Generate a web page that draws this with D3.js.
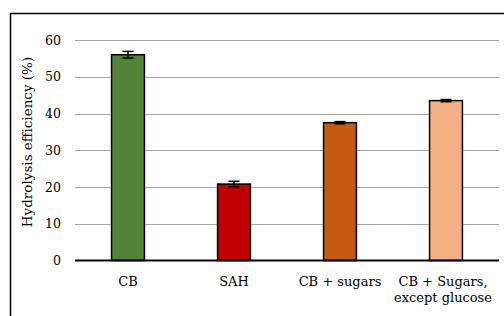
<!DOCTYPE html>
<html>
<head>
<meta charset="utf-8">
<script src="https://cdn.jsdelivr.net/npm/d3@7"></script>
<style>
  body { margin: 0; background: #fff; }
  text { font-family: "DejaVu Serif", serif; fill: #000; }
</style>
</head>
<body>
<div id="chart"></div>
<script>
const categories = ["CB", "SAH", "CB + sugars", "CB + Sugars, except glucose"];
const values = [56.0, 20.8, 37.5, 43.5];
const errors = [0.9, 0.75, 0.3, 0.3];
const colors = ["#538135", "#C00000", "#C55A11", "#F4B183"];
const yTicks = [0, 10, 20, 30, 40, 50, 60];

const width = 504;
const height = 316;
const plotLeft = 75, plotRight = 499, plotTop = 40, plotBottom = 260.5;

const svg = d3.select("#chart")
  .append("svg")
  .attr("width", width)
  .attr("height", height);

// outer frame, runs off the right and bottom edges
svg.append("rect")
  .attr("x", 10.5)
  .attr("y", 13.5)
  .attr("width", 600)
  .attr("height", 400)
  .attr("fill", "none")
  .attr("stroke", "#000")
  .attr("stroke-width", 1.5);

const x = d3.scaleBand()
  .domain(categories)
  .range([plotLeft, plotRight])
  .paddingInner(0.69)
  .paddingOuter(0.345);

const y = d3.scaleLinear()
  .domain([0, 60])
  .range([plotBottom, plotTop]);

// gridlines
svg.append("g")
  .selectAll("line")
  .data(yTicks.filter(d => d > 0))
  .enter()
  .append("line")
  .attr("x1", plotLeft)
  .attr("x2", plotRight)
  .attr("y1", d => Math.round(y(d)) + 0.5)
  .attr("y2", d => Math.round(y(d)) + 0.5)
  .attr("stroke", "#a6a6a6")
  .attr("stroke-width", 1.2);

// y tick labels
svg.append("g")
  .selectAll("text")
  .data(yTicks)
  .enter()
  .append("text")
  .attr("x", 61)
  .attr("y", d => y(d) + 4.5)
  .attr("text-anchor", "end")
  .attr("font-size", 12.5)
  .text(d => d);

// bars
svg.append("g")
  .selectAll("rect")
  .data(values)
  .enter()
  .append("rect")
  .attr("x", (d, i) => x(categories[i]))
  .attr("y", d => y(d))
  .attr("width", x.bandwidth())
  .attr("height", d => y(0) - y(d))
  .attr("fill", (d, i) => colors[i])
  .attr("stroke", "#000")
  .attr("stroke-width", 1.5);

// error bars
const eb = svg.append("g").attr("stroke", "#000").attr("stroke-width", 1.5);
values.forEach((v, i) => {
  const cx = x(categories[i]) + x.bandwidth() / 2;
  const e = errors[i];
  eb.append("line").attr("x1", cx).attr("x2", cx).attr("y1", y(v + e)).attr("y2", y(v - e));
  eb.append("line").attr("x1", cx - 5.5).attr("x2", cx + 5.5).attr("y1", y(v + e)).attr("y2", y(v + e));
  eb.append("line").attr("x1", cx - 5.5).attr("x2", cx + 5.5).attr("y1", y(v - e)).attr("y2", y(v - e));
});

// zero axis
svg.append("line")
  .attr("x1", plotLeft)
  .attr("x2", plotRight)
  .attr("y1", y(0))
  .attr("y2", y(0))
  .attr("stroke", "#000")
  .attr("stroke-width", 2);

// x labels
const xl = svg.append("g")
  .selectAll("text")
  .data(categories)
  .enter()
  .append("text")
  .attr("x", d => x(d) + x.bandwidth() / 2 - (d.includes(",") ? 3 : 0))
  .attr("y", 286)
  .attr("text-anchor", "middle")
  .attr("font-size", 13);

xl.each(function (d) {
  const parts = d.includes(", ") ? [d.split(", ")[0] + ",", d.split(", ")[1]] : [d];
  const t = d3.select(this);
  parts.forEach((p, j) => {
    t.append("tspan")
      .attr("x", t.attr("x"))
      .attr("dy", j === 0 ? 0 : 15.5)
      .text(p);
  });
});

// y axis title
svg.append("text")
  .attr("transform", `translate(32,142) rotate(-90)`)
  .attr("text-anchor", "middle")
  .attr("font-size", 13.5)
  .text("Hydrolysis efficiency (%)");
</script>
</body>
</html>
